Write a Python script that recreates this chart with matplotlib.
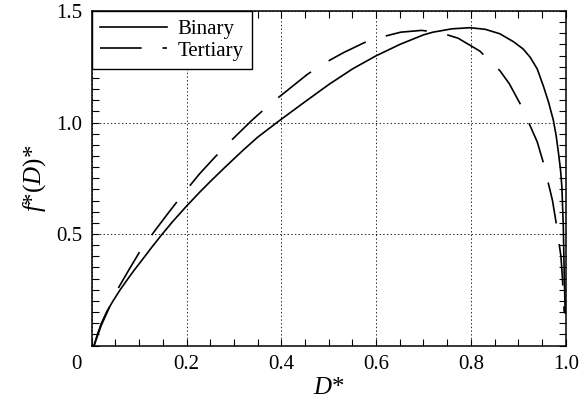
import matplotlib
matplotlib.use("Agg")
import matplotlib.pyplot as plt
import matplotlib.transforms as mtrans
from matplotlib.ticker import MultipleLocator, FixedLocator

# values
binary_d = [0.005, 0.012, 0.0204, 0.032, 0.045, 0.06, 0.0766, 0.09, 0.105, 0.125,
            0.147, 0.17, 0.20, 0.228, 0.25, 0.28, 0.319, 0.35, 0.397, 0.45,
            0.50, 0.55, 0.599, 0.65, 0.70, 0.72, 0.76, 0.798, 0.83, 0.861,
            0.89, 0.91, 0.925, 0.94, 0.953, 0.964, 0.974, 0.98, 0.985, 0.989,
            0.992, 0.995, 0.997, 0.999]
binary_f = [0.0, 0.05, 0.10, 0.153, 0.20, 0.25, 0.30, 0.339, 0.38, 0.436,
            0.495, 0.554, 0.625, 0.688, 0.735, 0.797, 0.875, 0.934, 1.01, 1.093,
            1.17, 1.24, 1.298, 1.35, 1.393, 1.405, 1.42, 1.425, 1.418, 1.398,
            1.362, 1.33, 1.293, 1.24, 1.163, 1.09, 1.01, 0.94, 0.86, 0.79,
            0.711, 0.532, 0.308, 0.146]

tertiary_d = [0.005, 0.02, 0.037, 0.057, 0.08, 0.1025, 0.134, 0.16, 0.192, 0.228,
              0.26, 0.297, 0.338, 0.375, 0.411, 0.455, 0.49, 0.531, 0.575, 0.615,
              0.652, 0.696, 0.735, 0.773, 0.819, 0.861, 0.881, 0.907, 0.940, 0.953,
              0.972, 0.979, 0.990, 0.993, 0.997]
tertiary_f = [0.0, 0.09, 0.17, 0.261, 0.345, 0.425, 0.517, 0.59, 0.678, 0.771,
              0.845, 0.925, 1.01, 1.08, 1.141, 1.216, 1.265, 1.313, 1.358, 1.385,
              1.405, 1.413, 1.403, 1.378, 1.32, 1.233, 1.174, 1.072, 0.913, 0.819,
              0.652, 0.562, 0.40, 0.307, 0.146]

x_ticks = [0, 0.2, 0.4, 0.6, 0.8, 1.0]
x_labels = ["0", "0.2", "0.4", "0.6", "0.8", "1.0"]
y_ticks = [0.5, 1.0, 1.5]
y_labels = ["0.5", "1.0", "1.5"]

plt.rcParams["font.family"] = "Liberation Serif"
plt.rcParams["mathtext.fontset"] = "custom"
plt.rcParams["mathtext.rm"] = "Liberation Serif"
plt.rcParams["mathtext.it"] = "Liberation Serif:italic"
plt.rcParams["lines.scale_dashes"] = False

fig = plt.figure(figsize=(5.79, 4.07), dpi=100)
ax = fig.add_axes([0.1584, 0.151, 0.8186, 0.822])

ax.plot(binary_d, binary_f, color="black", lw=1.2, label="Binary")
ax.plot(tertiary_d, tertiary_f, color="black", lw=1.2, dashes=(30, 15), label="Tertiary")

ax.set_xlim(0, 1.0)
ax.set_ylim(0, 1.5)

ax.xaxis.set_major_locator(FixedLocator(x_ticks))
ax.set_xticklabels(x_labels)
ax.yaxis.set_major_locator(FixedLocator(y_ticks))
ax.set_yticklabels(y_labels)
ax.xaxis.set_minor_locator(MultipleLocator(0.05))
ax.yaxis.set_minor_locator(MultipleLocator(0.05))

ax.tick_params(which="both", direction="in", top=True, right=True,
               length=5, width=0.8, labelsize=15, pad=7)
for s in ax.spines.values():
    s.set_linewidth(1.1)

# "0" on the x axis sits left of the corner
lab0 = ax.get_xticklabels()[0]
lab0.set_transform(lab0.get_transform() + mtrans.ScaledTranslation(-11 / 72, 0, fig.dpi_scale_trans))

ax.grid(True, which="major", color="black", ls=":", lw=0.6)

ax.set_xlabel("$D$*", fontsize=18, labelpad=2)
ax.set_ylabel("$f$*($D$)*", fontsize=18, labelpad=6)

leg = ax.legend(loc="upper left", fontsize=15, frameon=True, fancybox=False,
                edgecolor="black", framealpha=1, borderaxespad=0,
                handlelength=3.2, handletextpad=0.5, borderpad=0.4, labelspacing=0.1)
leg.get_frame().set_linewidth(1.0)

fig.savefig("out.png", dpi=100)
